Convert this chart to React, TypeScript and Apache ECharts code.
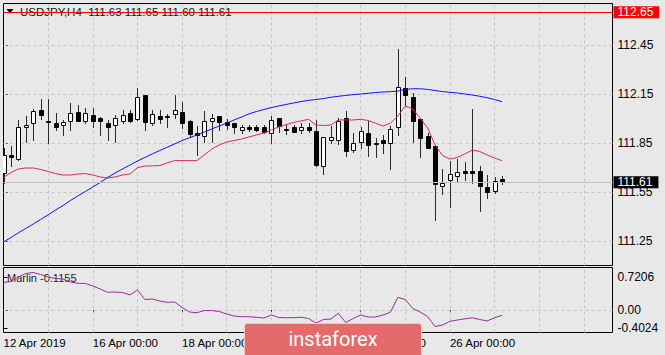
import React, { useEffect, useRef } from "react";
import * as echarts from "echarts";

// ---------- data ----------
const opens = [
  111.666, 111.777, 111.752, 111.948, 111.972, 112.052, 111.985, 111.972, 111.96, 111.985,
  112.04, 111.985, 112.021, 112.003, 111.972, 111.96, 111.985, 112.034, 111.997, 112.144,
  111.972, 112.015, 112.016, 112.028, 112.04, 111.985, 111.911, 111.893, 111.985, 112.015,
  111.979, 111.972, 111.93, 111.948, 111.948, 111.948, 111.911, 112.003, 111.937, 111.948,
  111.93, 111.948, 111.923, 111.709, 111.868, 111.868, 112.003, 111.807, 111.856, 111.911,
  111.85, 111.868, 111.85, 111.948, 112.187, 112.132, 111.997, 111.893, 111.832, 111.587,
  111.623, 111.648, 111.679, 111.679, 111.679, 111.581, 111.556, 111.63,
];
const closes = [
  111.777, 111.764, 111.948, 111.96, 112.046, 112.021, 111.982, 111.948, 111.979, 112.034,
  111.985, 112.034, 111.985, 111.985, 111.948, 112.003, 112.021, 111.985, 112.132, 111.979,
  112.028, 111.997, 112.014, 112.052, 111.972, 111.905, 111.899, 111.985, 112.003, 111.979,
  111.96, 111.948, 111.948, 111.936, 111.93, 111.917, 111.991, 111.954, 111.935, 111.917,
  111.948, 111.93, 111.715, 111.887, 111.887, 111.985, 111.801, 111.85, 111.923, 111.838,
  111.844, 111.85, 111.936, 112.193, 112.144, 111.985, 111.881, 111.819, 111.599, 111.605,
  111.66, 111.672, 111.666, 111.666, 111.587, 111.55, 111.617, 111.61,
];
const lows = [
  111.605, 111.709, 111.746, 111.856, 111.868, 111.997, 111.85, 111.93, 111.899, 111.93,
  111.983, 111.972, 111.948, 111.899, 111.868, 111.856, 111.972, 111.979, 111.991, 111.93,
  111.96, 111.972, 111.948, 112.003, 111.942, 111.887, 111.777, 111.856, 111.856, 111.93,
  111.936, 111.911, 111.911, 111.923, 111.923, 111.911, 111.85, 111.917, 111.905, 111.917,
  111.911, 111.917, 111.709, 111.66, 111.85, 111.844, 111.77, 111.795, 111.819, 111.77,
  111.764, 111.789, 111.691, 111.899, 112.083, 111.856, 111.764, 111.819, 111.379, 111.538,
  111.458, 111.617, 111.623, 111.605, 111.434, 111.513, 111.544, 111.6,
];
const highs = [
  111.819, 111.832, 111.991, 112.015, 112.058, 112.119, 112.119, 112.034, 111.991, 112.095,
  112.083, 112.064, 112.064, 112.009, 111.991, 112.021, 112.052, 112.052, 112.187, 112.146,
  112.052, 112.052, 112.028, 112.144, 112.101, 111.991, 111.954, 112.046, 112.028, 112.015,
  111.997, 111.972, 111.96, 111.96, 111.96, 111.96, 112.015, 112.003, 111.96, 111.96,
  111.972, 111.972, 111.991, 111.887, 111.954, 112.003, 112.046, 111.911, 111.948, 111.985,
  111.881, 111.899, 111.954, 112.426, 112.254, 112.156, 111.997, 111.911, 111.832, 111.691,
  111.74, 111.752, 111.734, 112.058, 111.709, 111.654, 111.642, 111.65,
];
const redMA = [
  111.639, 111.669, 111.691, 111.697, 111.697, 111.688, 111.676, 111.663, 111.654, 111.654,
  111.66, 111.663, 111.654, 111.642, 111.636, 111.642, 111.654, 111.66, 111.699, 111.709,
  111.71, 111.712, 111.728, 111.742, 111.742, 111.742, 111.742, 111.777, 111.813, 111.838,
  111.856, 111.865, 111.875, 111.887, 111.899, 111.911, 111.93, 111.948, 111.963, 111.976,
  111.985, 111.995, 111.96, 111.957, 111.96, 111.991, 111.991, 111.991, 111.995, 111.988,
  111.971, 111.954, 111.971, 112.015, 112.077, 112.058, 112.003, 111.942, 111.838, 111.774,
  111.752, 111.761, 111.783, 111.807, 111.798, 111.777, 111.758, 111.742,
];
const blueMA = [
  111.244, 111.271, 111.3, 111.327, 111.354, 111.382, 111.41, 111.44, 111.467, 111.498,
  111.526, 111.553, 111.581, 111.608, 111.639, 111.666, 111.691, 111.715, 111.74, 111.761,
  111.783, 111.804, 111.824, 111.844, 111.865, 111.882, 111.899, 111.917, 111.936, 111.954,
  111.972, 111.991, 112.009, 112.028, 112.043, 112.055, 112.067, 112.077, 112.086, 112.095,
  112.104, 112.111, 112.116, 112.122, 112.13, 112.136, 112.141, 112.146, 112.15, 112.154,
  112.159, 112.162, 112.164, 112.168, 112.178, 112.182, 112.182, 112.178, 112.171, 112.165,
  112.16, 112.156, 112.15, 112.144, 112.136, 112.127, 112.116, 112.103,
];
const marlin = [
  0.6, 0.622, 0.721, 0.797, 0.819, 0.775, 0.721, 0.688, 0.677, 0.611,
  0.583, 0.579, 0.524, 0.459, 0.386, 0.393, 0.382, 0.328, 0.437, 0.229,
  0.24, 0.197, 0.168, 0.175, 0.055, -0.044, -0.059, -0.011, -0.011, -0.033,
  -0.087, -0.131, -0.146, -0.146, -0.159, -0.175, -0.109, -0.164, -0.168, -0.168,
  -0.159, -0.186, -0.284, -0.207, -0.197, -0.072, -0.273, -0.186, -0.109, -0.153,
  -0.153, -0.109, -0.05, 0.277, 0.229, 0.033, -0.044, -0.142, -0.36, -0.328,
  -0.247, -0.218, -0.192, -0.17, -0.207, -0.24, -0.168, -0.1155,
];
const priceTicks = [111.25, 111.55, 111.85, 112.15, 112.45];
const marlinTicks = [-0.4024, 0, 0.7206];
const timeTickIndex = [0, 12, 24, 36, 48, 60];
const timeTickLabels = ["12 Apr 2019", "16 Apr 00:00", "18 Apr 00:00", "22 Apr 00:00", "24 Apr 00:00", "26 Apr 00:00"];
const gridIndex = [6, 12, 18, 24, 30, 36, 42, 48, 54, 60, 66, 72, 78];
const alertLevel = 112.65;
const lastPrice = 111.61;
const titleText = "USDJPY,H4  111.63 111.65 111.60 111.61";
const marlinText = "Marlin -0.1155";
const watermarkText = "instaforex";

// ---------- styling ----------
const FONT = "'Liberation Sans', Arial, Helvetica, sans-serif";
const BG = "#e8e8e8";
const GRIDC = "#c4c4c4";
const X_MAX = 81.85;

export default function App() {
  const ref = useRef<HTMLDivElement>(null);

  useEffect(() => {
    if (!ref.current) return;
    const chart = echarts.init(ref.current, null, { renderer: "svg" });

    const candleData = opens.map((o, i) => [i, o, closes[i], lows[i], highs[i]]);
    const toXY = (arr: number[]) => arr.map((v, i) => [i, v]);

    const renderCandle = (_params: any, api: any) => {
      const x = api.value(0);
      const o = api.value(1);
      const c = api.value(2);
      const l = api.value(3);
      const h = api.value(4);
      const pH = api.coord([x, h]);
      const pL = api.coord([x, l]);
      const pO = api.coord([x, o]);
      const pC = api.coord([x, c]);
      const xc = Math.round(pH[0]) + 0.5;
      const top = Math.round(Math.min(pO[1], pC[1])) + 0.5;
      const bot = Math.round(Math.max(pO[1], pC[1])) + 0.5;
      const bull = c >= o;
      return {
        type: "group",
        children: [
          {
            type: "line",
            shape: { x1: xc, y1: Math.round(pH[1]), x2: xc, y2: Math.round(pL[1]) + 1 },
            style: { stroke: "#2a2a2a", lineWidth: 1 },
          },
          {
            type: "rect",
            shape: { x: xc - 2, y: top, width: 4, height: Math.max(bot - top, 1) },
            style: { fill: bull ? "#ffffff" : "#000000", stroke: "#000000", lineWidth: 1 },
          },
        ],
      };
    };

    const labelBox = (bg: string, text: string) => ({
      show: true,
      position: "end",
      distance: 1,
      formatter: text,
      backgroundColor: bg,
      color: "#ffffff",
      padding: [0, 6, 0, 4],
      fontSize: 12,
      lineHeight: 12,
      fontFamily: FONT,
    });

    const option: any = {
      animation: false,
      backgroundColor: BG,
      textStyle: { fontFamily: FONT },
      grid: [
        { left: 3.5, right: 52.5, top: 3.5, bottom: 89.5, show: true, borderColor: "#000", borderWidth: 1, backgroundColor: "transparent" },
        { left: 3.5, right: 52.5, top: 267.5, bottom: 22.5, show: true, borderColor: "#000", borderWidth: 1, backgroundColor: "transparent" },
      ],
      xAxis: [
        {
          gridIndex: 0, type: "value", min: 0, max: X_MAX,
          axisLine: { show: false }, axisTick: { show: false }, axisLabel: { show: false }, splitLine: { show: false },
        },
        {
          gridIndex: 1, type: "value", min: 0, max: X_MAX,
          axisLine: { show: false }, splitLine: { show: false },
          axisTick: { show: true, customValues: timeTickIndex, length: 4, lineStyle: { color: "#000" } },
          axisLabel: {
            show: true,
            customValues: timeTickIndex,
            formatter: (v: number) => {
              const k = timeTickIndex.indexOf(Math.round(v));
              return k >= 0 ? timeTickLabels[k] : "";
            },
            align: "left",
            margin: 4,
            fontSize: 11.5,
            color: "#000",
            fontFamily: FONT,
          },
        },
      ],
      yAxis: [
        {
          gridIndex: 0, type: "value", position: "right", min: 111.1, max: 112.704,
          axisLine: { show: false }, splitLine: { show: false },
          axisTick: { show: true, customValues: priceTicks, length: 4, lineStyle: { color: "#000" } },
          axisLabel: {
            customValues: priceTicks,
            formatter: (v: number) => v.toFixed(2),
            margin: 5, fontSize: 12, color: "#000", fontFamily: FONT,
          },
        },
        {
          gridIndex: 1, type: "value", position: "right", min: -0.491, max: 0.928,
          axisLine: { show: false }, splitLine: { show: false },
          axisTick: { show: true, customValues: marlinTicks, length: 4, lineStyle: { color: "#000" } },
          axisLabel: {
            customValues: marlinTicks,
            formatter: (v: number) => (Math.abs(v) < 1e-9 ? "0.00" : v.toFixed(4)),
            margin: 5, fontSize: 12, color: "#000", fontFamily: FONT,
          },
        },
      ],
      graphic: {
        elements: [
          { type: "polygon", z: 1, shape: { points: [[6.5, 9], [13.5, 9], [10, 13.5]] }, style: { fill: "#000" } },
          {
            type: "text", z: 1, x: 20, y: 12,
            style: { text: titleText, fontSize: 11.5, fontFamily: FONT, fill: "#141414", verticalAlign: "middle", align: "left" },
          },
          {
            type: "text", z: 1, x: 7, y: 278,
            style: { text: marlinText, fontSize: 11, fontFamily: FONT, fill: "#1e1e1e", verticalAlign: "middle", align: "left" },
          },
          {
            type: "rect", z: 100, shape: { x: 244.5, y: 323.5, width: 177, height: 40, r: 3 },
            style: { fill: "#e46a6c", stroke: "#f2c4c4", lineWidth: 1 },
          },
          {
            type: "text", z: 101, x: 333, y: 339,
            style: { text: watermarkText, fontSize: 20, fontFamily: "Roboto, 'Open Sans', sans-serif", fill: "#ffffff", align: "center", verticalAlign: "middle" },
          },
        ],
      },
      series: [
        {
          name: "grid",
          type: "line",
          xAxisIndex: 0,
          yAxisIndex: 0,
          data: [],
          silent: true,
          markLine: {
            silent: true,
            symbol: "none",
            z: 1,
            label: { show: false },
            lineStyle: { color: GRIDC, type: [3, 3], width: 1 },
            data: [...priceTicks.map((v) => ({ yAxis: v })), ...gridIndex.map((v) => ({ xAxis: v }))],
          },
        },
        {
          name: "grid2",
          type: "line",
          xAxisIndex: 1,
          yAxisIndex: 1,
          data: [],
          silent: true,
          markLine: {
            silent: true,
            symbol: "none",
            z: 1,
            label: { show: false },
            lineStyle: { color: GRIDC, type: [3, 3], width: 1 },
            data: [{ yAxis: 0 }, ...gridIndex.map((v) => ({ xAxis: v }))],
          },
        },
        {
          name: "USDJPY",
          type: "custom",
          xAxisIndex: 0,
          yAxisIndex: 0,
          renderItem: renderCandle,
          data: candleData,
          encode: { x: 0, y: [1, 2, 3, 4] },
          clip: true,
          z: 3,
          silent: true,
        },
        {
          name: "MA fast",
          type: "line",
          xAxisIndex: 0,
          yAxisIndex: 0,
          data: toXY(redMA),
          showSymbol: false,
          symbol: "none",
          lineStyle: { color: "#dc2a50", width: 1 },
          z: 4,
          silent: true,
        },
        {
          name: "MA slow",
          type: "line",
          xAxisIndex: 0,
          yAxisIndex: 0,
          data: toXY(blueMA),
          showSymbol: false,
          symbol: "none",
          lineStyle: { color: "#1010ff", width: 1 },
          z: 4,
          silent: true,
          markLine: {
            silent: true,
            symbol: "none",
            z: 5,
            data: [
              { yAxis: alertLevel, lineStyle: { color: "#ff0000", width: 1, type: "solid" }, label: labelBox("#ff0000", alertLevel.toFixed(2)) },
              { yAxis: lastPrice, lineStyle: { color: "#c0c0c0", width: 1, type: "solid" }, label: labelBox("#000000", lastPrice.toFixed(2)) },
            ],
          },
        },
        {
          name: "Marlin",
          type: "line",
          xAxisIndex: 1,
          yAxisIndex: 1,
          data: toXY(marlin),
          showSymbol: false,
          symbol: "none",
          lineStyle: { color: "#9a2aa6", width: 1 },
          z: 4,
          silent: true,
        },
      ],
    };

    chart.setOption(option);
    return () => chart.dispose();
  }, []);

  return <div ref={ref} style={{ position: "fixed", left: 0, top: 0, width: 665, height: 355 }} />;
}
